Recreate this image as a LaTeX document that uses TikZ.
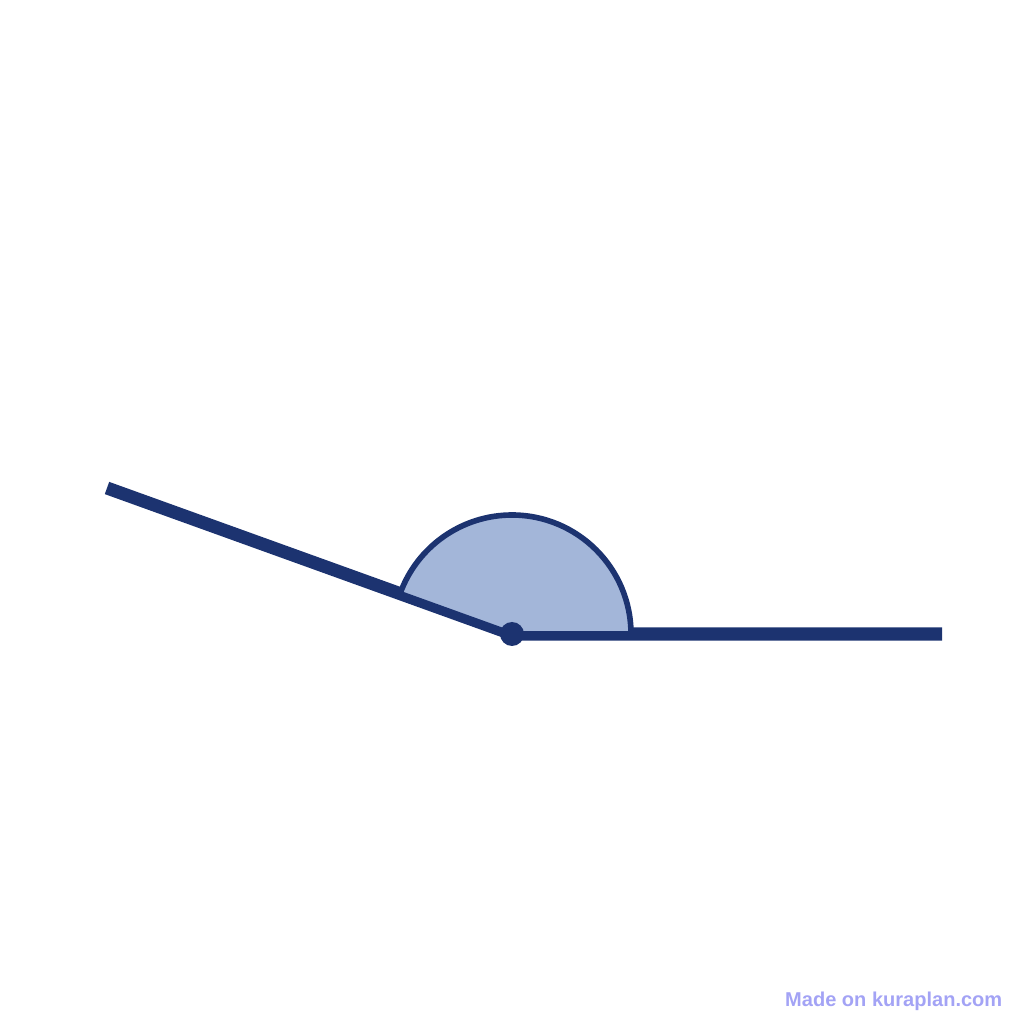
\documentclass[tikz,border=0pt]{standalone}
\usepackage{fontspec}
\newfontfamily\creditfont{Liberation Sans}
\usetikzlibrary{positioning}
\definecolor{navy}{HTML}{1C3370}
\definecolor{paleblue}{HTML}{A3B6D9}
\definecolor{creditblue}{HTML}{A3A3F5}

\begin{document}
\begin{tikzpicture}[ -, ray/.style = {draw=navy, line width=3.7pt},
                    sector/.style = {draw=navy, fill=paleblue, line width=1.6pt},
                    dot/.style = {circle, fill=navy, inner sep=0pt, minimum size=0.24cm},
                    credit/.style = {text=creditblue, inner sep=0pt, font=\creditfont\bfseries\fontsize{5.7}{7}\selectfont}]
\useasboundingbox (0,0) rectangle (10.24,10.24);
\coordinate (O) at (5.12,3.90);
\coordinate (A) at (9.42,3.90);
\coordinate (B) at (1.07,5.36);
    \draw[ray] (B) -- (O) -- (A);
\filldraw[sector] (O) -- ++(0:1.19) arc[start angle=0, end angle=160.18, radius=1.19] -- cycle;
\node[dot] (vertex) at (O) {};
\node[credit, anchor=base east] (mark) at (10.03,0.18) {Made on kuraplan.com};
\end{tikzpicture}
\end{document}
